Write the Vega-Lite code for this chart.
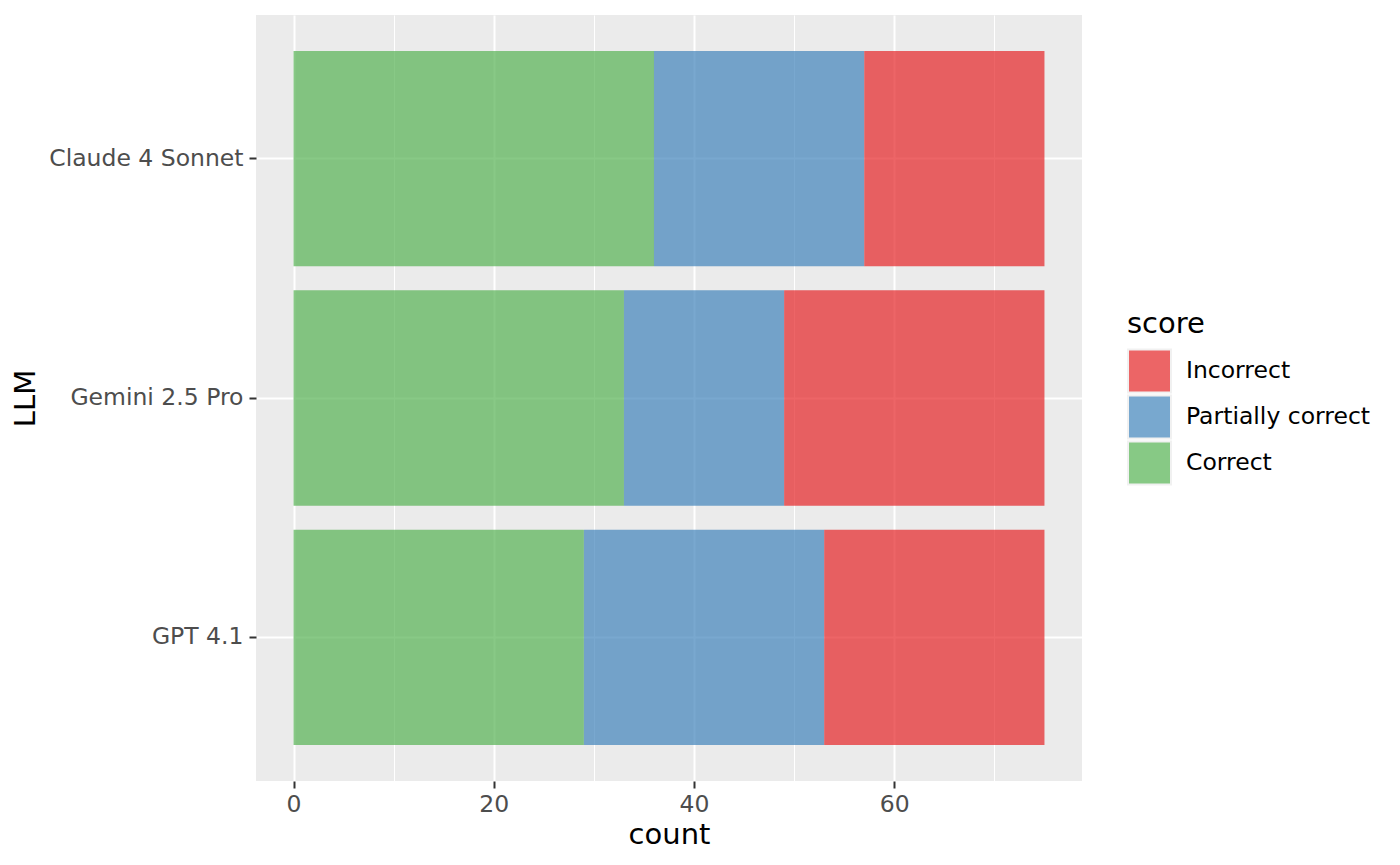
{
  "$schema": "https://vega.github.io/schema/vega-lite/v6.json",
  "description": "Scores of three LLMs, stacked counts.",
  "width": 826,
  "height": 766,
  "autosize": "none",
  "padding": {"left": 256, "top": 15, "right": 318, "bottom": 84},
  "background": "white",
  "config": {
    "font": "DejaVu Sans",
    "view": {"fill": "#EBEBEB", "stroke": null}
  },
  "data": {
    "values": [
      {"LLM": "Claude 4 Sonnet", "score": "Correct", "count": 36},
      {"LLM": "Claude 4 Sonnet", "score": "Partially correct", "count": 21},
      {"LLM": "Claude 4 Sonnet", "score": "Incorrect", "count": 18},
      {"LLM": "Gemini 2.5 Pro", "score": "Correct", "count": 33},
      {"LLM": "Gemini 2.5 Pro", "score": "Partially correct", "count": 16},
      {"LLM": "Gemini 2.5 Pro", "score": "Incorrect", "count": 26},
      {"LLM": "GPT 4.1", "score": "Correct", "count": 29},
      {"LLM": "GPT 4.1", "score": "Partially correct", "count": 24},
      {"LLM": "GPT 4.1", "score": "Incorrect", "count": 22}
    ]
  },
  "transform": [
    {"calculate": "indexof(['Correct', 'Partially correct', 'Incorrect'], datum.score)", "as": "stack_order"}
  ],
  "mark": {"type": "bar", "opacity": 0.67},
  "encoding": {
    "y": {
      "field": "LLM",
      "type": "nominal",
      "sort": ["Claude 4 Sonnet", "Gemini 2.5 Pro", "GPT 4.1"],
      "scale": {"paddingInner": 0.1, "paddingOuter": 0.15},
      "axis": {
        "bandPosition": 0.5,
        "grid": true,
        "gridColor": "white",
        "gridWidth": 2,
        "domain": false,
        "tickColor": "#333333",
        "tickWidth": 2,
        "tickSize": 7,
        "labelFontSize": 23.5,
        "labelColor": "#4D4D4D",
        "labelPadding": 6,
        "labelLimit": 0,
        "titleFontSize": 29,
        "titleFontWeight": "normal",
        "titleColor": "black",
        "titlePadding": 16
      }
    },
    "x": {
      "field": "count",
      "type": "quantitative",
      "stack": "zero",
      "scale": {"domain": [-3.75, 78.75], "nice": false, "zero": false},
      "axis": {
        "values": [0, 10, 20, 30, 40, 50, 60, 70],
        "labelExpr": "datum.value % 20 === 0 ? datum.label : ''",
        "grid": true,
        "gridColor": "white",
        "gridWidth": {"condition": {"test": "datum.value % 20 !== 0", "value": 1}, "value": 2},
        "tickOpacity": {"condition": {"test": "datum.value % 20 !== 0", "value": 0}, "value": 1},
        "domain": false,
        "tickColor": "#333333",
        "tickWidth": 2,
        "tickSize": 7,
        "labelFontSize": 23.5,
        "labelColor": "#4D4D4D",
        "labelPadding": 4,
        "labelFlush": false,
        "titleFontSize": 29,
        "titleFontWeight": "normal",
        "titleColor": "black",
        "titlePadding": 5
      }
    },
    "order": {"field": "stack_order", "type": "quantitative"},
    "color": {
      "field": "score",
      "type": "nominal",
      "scale": {
        "domain": ["Incorrect", "Partially correct", "Correct"],
        "range": ["#E41A1C", "#377EB8", "#4DAF4A"]
      },
      "legend": {
        "orient": "none",
        "legendX": 871,
        "legendY": 295,
        "symbolType": "square",
        "symbolSize": 1849,
        "symbolOpacity": 0.67,
        "symbolStrokeColor": "#EBEBEB",
        "symbolStrokeWidth": 2,
        "clipHeight": 46,
        "rowPadding": 0,
        "labelOffset": 14,
        "labelLimit": 0,
        "labelFontSize": 23.5,
        "labelColor": "black",
        "titleFontSize": 29,
        "titleFontWeight": "normal",
        "titleColor": "black",
        "titlePadding": 9
      }
    }
  }
}
